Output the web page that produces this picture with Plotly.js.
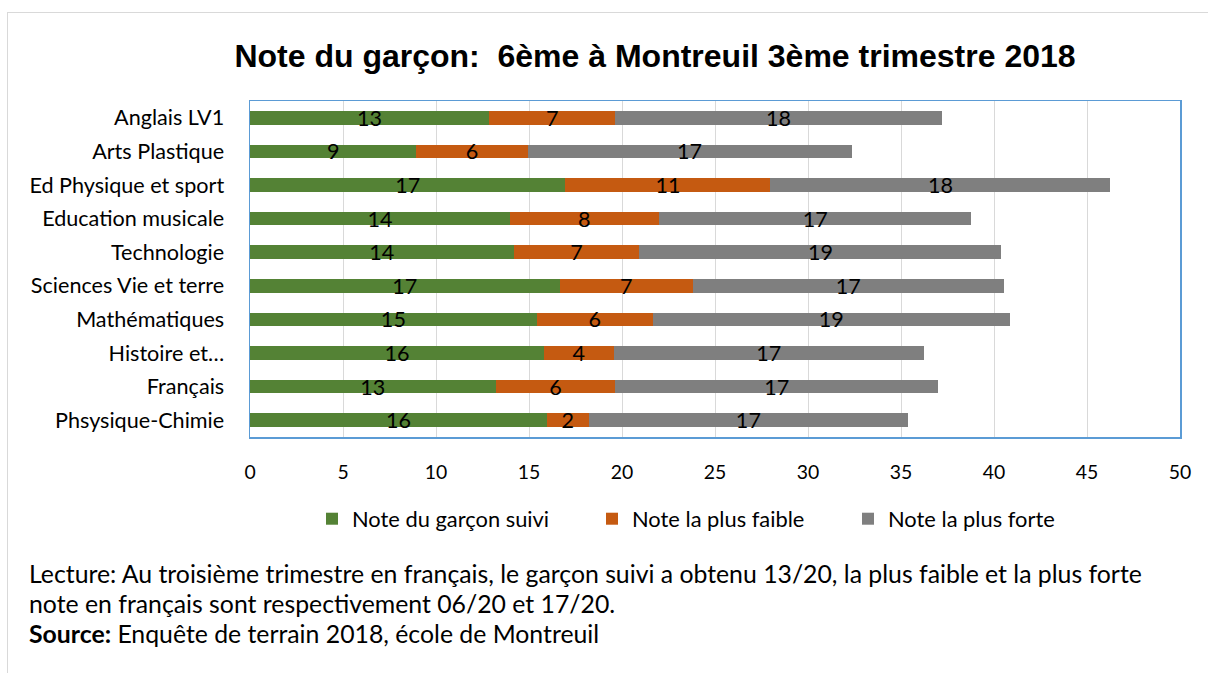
<!DOCTYPE html>
<html>
<head>
<meta charset="utf-8">
<script src="https://cdn.plot.ly/plotly-3.0.1.min.js"></script>
<style>
  html, body { margin: 0; padding: 0; background: #ffffff; }
  #wrap { position: relative; width: 1208px; height: 673px; overflow: hidden; }
  #chart { position: absolute; left: 0; top: 0; width: 1208px; height: 673px; }
  #frame { position: absolute; left: 7px; top: 12px; width: 1300px; height: 700px;
           border-left: 1px solid #d9d9d9; border-top: 1px solid #d9d9d9; pointer-events: none; }
</style>
</head>
<body>
<div id="wrap">
  <div id="chart"></div>
  <div id="frame"></div>
</div>
<script>
// ---- Data ----
const subjects = [
  "Anglais LV1",
  "Arts Plastique",
  "Ed Physique et sport",
  "Education musicale",
  "Technologie",
  "Sciences Vie et terre",
  "Mathématiques",
  "Histoire et…",
  "Français",
  "Phsysique-Chimie"
];
const noteGarcon = [12.84, 8.95, 16.96, 13.97, 14.18, 16.64, 15.42, 15.80, 13.20, 15.96];
const noteFaible = [6.81, 5.97, 11.02, 8.01, 6.76, 7.17, 6.24, 3.76, 6.45, 2.26];
const noteForte  = [17.53, 17.42, 18.28, 16.81, 19.46, 16.72, 19.19, 16.67, 17.35, 17.15];
const seriesNames = ["Note du garçon suivi", "Note la plus faible", "Note la plus forte"];
const seriesColors = ["#548235", "#C55A11", "#7F7F7F"];
const xTicks = [0, 5, 10, 15, 20, 25, 30, 35, 40, 45, 50];

const titleText = "Note du garçon:\u00a0\u00a06ème à Montreuil 3ème trimestre 2018";
const captionLines = [
  "Lecture: Au troisième trimestre en français, le garçon suivi a obtenu 13/20, la plus faible et la plus forte",
  "note en français sont respectivement 06/20 et 17/20.",
  "<b>Source:</b> Enquête de terrain 2018, école de Montreuil"
];

// ---- Layout geometry (pixels in the 1208x673 picture) ----
const W = 1208, H = 673;
const plotL = 250, plotR = 1180, plotT = 101, plotB = 437;
const pxToPaperX = px => (px - plotL) / (plotR - plotL);
const pxToPaperY = py => (plotB - py) / (plotB - plotT);
const legendTextX = [352, 632, 888];
const legendY = 519;
const captionX = 27;
const captionY = [573, 603, 633];

const FONT_NAME = "Lato";
const FONT = "Lato, 'Open Sans', sans-serif";

// font-size fitting helper: size so that the text has the wanted pixel width
const cv = document.createElement("canvas").getContext("2d");
function fitSize(text, targetWidth, weight, fallback) {
  try {
    cv.font = (weight || "normal") + " 100px " + FONT_NAME;
    const w = cv.measureText(text).width;
    if (!w) return fallback;
    return Math.round(100 * targetWidth / w * 10) / 10;
  } catch (e) { return fallback; }
}
const avg = a => a.reduce((s, v) => s + v, 0) / a.length;

const catSize = avg([fitSize("Ed Physique et sport", 197, "normal", 21),
                     fitSize("Anglais LV1", 109, "normal", 21)]);
const legSize = avg([fitSize(seriesNames[0], 196, "normal", 21),
                     fitSize(seriesNames[1], 173, "normal", 21),
                     fitSize(seriesNames[2], 168, "normal", 21)]);
const capSize = fitSize(captionLines[0], 1113, "normal", 23);
const tickSize = Math.min(catSize, avg([fitSize("13", 22, "normal", 20), fitSize("50", 23, "normal", 20)]));
const labelSize = catSize;

const values = [noteGarcon, noteFaible, noteForte];
const legendIds = ["legend", "legend2", "legend3"];
const traces = values.map((vals, i) => ({
  type: "bar",
  orientation: "h",
  name: seriesNames[i],
  legend: legendIds[i],
  y: subjects,
  x: vals,
  marker: { color: seriesColors[i], line: { width: 0 } },
  texttemplate: "%{value:.0f}",
  textposition: "inside",
  insidetextanchor: "middle",
  constraintext: "none",
  textangle: 0,
  textfont: { family: FONT, size: labelSize, color: "#000000" },
  hoverinfo: "x+y+name"
}));

const layout = {
  width: W,
  height: H,
  margin: { l: plotL, r: W - plotR, t: plotT, b: H - plotB, pad: 0 },
  paper_bgcolor: "#ffffff",
  plot_bgcolor: "#ffffff",
  barmode: "stack",
  bargap: 0.6,
  font: { family: FONT, size: catSize, color: "#000000" },
  title: {
    text: "<b>" + titleText + "</b>",
    font: { family: "'Liberation Sans', Arial, sans-serif", size: 32, color: "#000000" },
    xref: "container", yref: "container",
    x: 655 / W, xanchor: "center",
    y: 1 - 56 / H, yanchor: "middle"
  },
  xaxis: {
    range: [0, 50],
    tickmode: "array",
    tickvals: xTicks,
    ticktext: xTicks.map(String),
    showgrid: true,
    gridcolor: "#d9d9d9",
    gridwidth: 1,
    zeroline: false,
    showline: true,
    linecolor: "#5B9BD5",
    linewidth: 1.5,
    mirror: true,
    ticks: "",
    ticklabelstandoff: 17,
    tickfont: { family: FONT, size: tickSize, color: "#000000" },
    fixedrange: true
  },
  yaxis: {
    type: "category",
    categoryorder: "array",
    categoryarray: subjects,
    autorange: "reversed",
    showgrid: false,
    zeroline: false,
    showline: true,
    linecolor: "#5B9BD5",
    linewidth: 1.5,
    mirror: true,
    ticks: "",
    ticklabelstandoff: 20,
    tickfont: { family: FONT, size: catSize, color: "#000000" },
    fixedrange: true
  },
  showlegend: true,
  annotations: captionLines.map((t, i) => ({
    text: t,
    xref: "paper", yref: "paper",
    x: pxToPaperX(captionX), xanchor: "left",
    y: pxToPaperY(captionY[i]), yanchor: "middle",
    align: "left",
    showarrow: false,
    font: { family: FONT, size: capSize, color: "#000000" }
  }))
};

legendIds.forEach((id, i) => {
  layout[id] = {
    orientation: "h",
    xref: "container", yref: "container",
    x: (legendTextX[i] - 40) / W, xanchor: "left",
    y: 1 - legendY / H, yanchor: "middle",
    font: { family: FONT, size: legSize, color: "#000000" },
    bgcolor: "rgba(0,0,0,0)",
    borderwidth: 0
  };
});

Plotly.newPlot("chart", traces, layout, { displayModeBar: false, staticPlot: true });
</script>
</body>
</html>
